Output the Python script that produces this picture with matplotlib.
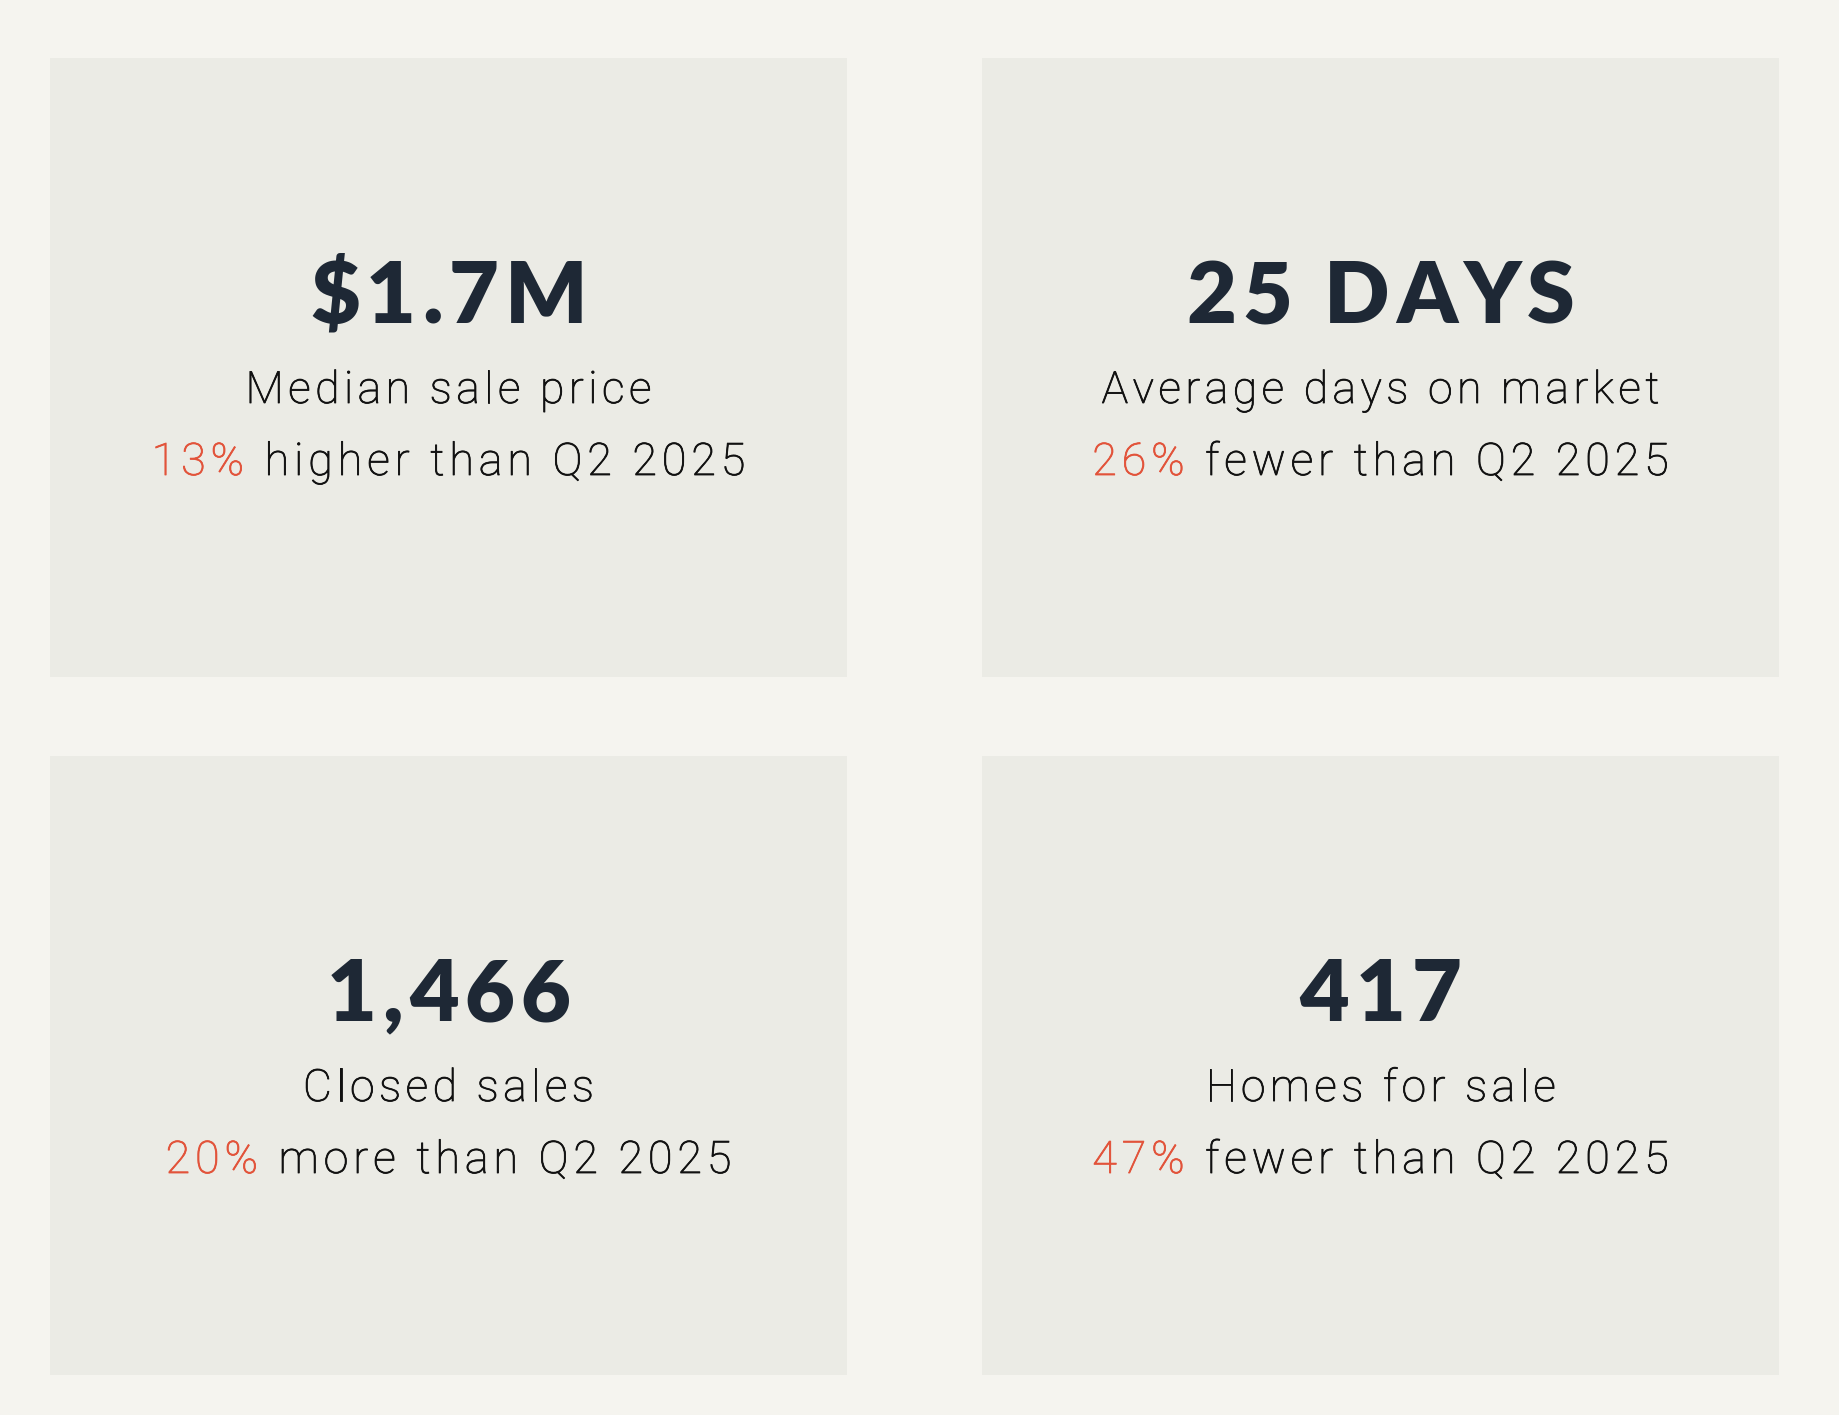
import matplotlib
matplotlib.use('Agg')
import matplotlib.pyplot as plt
import matplotlib.patheffects as pe
from matplotlib.patches import Rectangle
from matplotlib.font_manager import FontProperties, findfont, get_font

# figure geometry (pixels)
W, H = 1839, 1415
DPI = 100

# data
values = ['$1.7M', '25 DAYS', '1,466', '417']
labels = ['Median sale price', 'Average days on market', 'Closed sales', 'Homes for sale']
changes = ['13%', '26%', '20%', '47%']
directions = ['higher', 'fewer', 'more', 'fewer']
period = 'Q2 2025'

# colours
BG = '#F5F4EF'
PANEL = '#EBEBE5'
NAVY = '#1E2835'
INK = '#111111'
RED = '#E2533A'

# fonts
big_fp = FontProperties(family=['Lato', 'DejaVu Sans'], weight='heavy', size=62)
sub_fp = FontProperties(family=['Roboto', 'DejaVu Sans'], weight='light', size=32)
chg_fp = FontProperties(family=['Roboto', 'DejaVu Sans'], weight='light', size=32.3)
BIG_TRACK = 6
SUB_TRACK = 4.5
CHG_TRACK = 4.9


def advance(ch, fp):
    font = get_font(findfont(fp))
    font.set_size(fp.get_size_in_points(), DPI)
    g = font.load_char(ord(ch))
    return g.linearHoriAdvance / 65536.0


def spaced_text(ax, xc, y, segments, fp, track, stroke=0.0):
    # draws characters one by one so letter spacing can be added
    chars = []
    for txt, col in segments:
        for ch in txt:
            chars.append((ch, col, advance(ch, fp)))
    total = sum(c[2] for c in chars) + track * (len(chars) - 1)
    x = xc - total / 2.0
    for ch, col, w in chars:
        if ch != ' ':
            t = ax.text(x, y, ch, color=col, fontproperties=fp, ha='left', va='baseline')
            if stroke:
                t.set_path_effects([pe.withStroke(linewidth=stroke, foreground=col)])
        x += w + track


fig = plt.figure(figsize=(W / DPI, H / DPI), dpi=DPI, facecolor=BG)
ax = fig.add_axes([0, 0, 1, 1])
ax.set_xlim(0, W)
ax.set_ylim(H, 0)
ax.axis('off')

# panel grid
px0 = [50, 982]
py0 = [58, 756]
pw, ph = 797, 619

for i in range(4):
    col, row = i % 2, i // 2
    x0, y0 = px0[col], py0[row]
    ax.add_patch(Rectangle((x0, y0), pw, ph, facecolor=PANEL, edgecolor='none'))
    xc = x0 + pw / 2.0
    spaced_text(ax, xc, y0 + 265, [(values[i], NAVY)], big_fp, BIG_TRACK)
    spaced_text(ax, xc, y0 + 345, [(labels[i], INK)], sub_fp, SUB_TRACK, stroke=0.6)
    spaced_text(ax, xc, y0 + 417,
                [(changes[i], RED), (' ' + directions[i] + ' than ' + period, INK)],
                chg_fp, CHG_TRACK, stroke=0.6)

plt.savefig('out.png', dpi=DPI, facecolor=BG)
plt.close()
